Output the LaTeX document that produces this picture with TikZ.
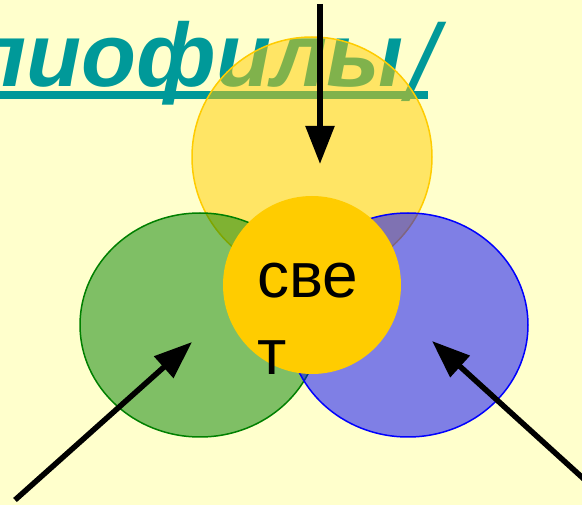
\documentclass[tikz,border=0pt]{standalone}
\usepackage{fontspec}
\setmainfont{Liberation Sans}
\usetikzlibrary{arrows.meta}
\definecolor{bgc}{HTML}{FFFFCC}
\definecolor{teal1}{HTML}{009999}
\definecolor{sunc}{HTML}{FFCC00}
\definecolor{greenc}{HTML}{008000}
\definecolor{bluec}{HTML}{0000FF}
\tikzset{
  petal/.style={line width=1.5pt, fill opacity=0.5, draw opacity=1},
  ray/.style={line width=5.5pt, -{Triangle[length=38pt,width=28pt]}},
  label/.style={inner sep=0pt, font=\fontsize{64}{64}\selectfont},
}
\begin{document}
\begin{tikzpicture}[x=1pt,y=-1pt]
\fill[bgc] (0,0) rectangle (582,505);
\useasboundingbox (0,0) rectangle (582,505);
% title
\node[inner sep=0pt, anchor=base east, text=teal1, font=\fontsize{90}{90}\selectfont\bfseries\itshape] (title) at (404,87) {лиофилы};
\node[inner sep=0pt, anchor=base west, text=teal1, font=\fontsize{108}{108}\selectfont\itshape] (slash) at (407,101) {/};
\fill[teal1] (0,91) rectangle (428,99);
% petals
\draw[petal, draw=sunc, fill=sunc] (312,157) ellipse [x radius=120, y radius=120];
\draw[petal, draw=greenc, fill=greenc] (200,325) ellipse [x radius=120, y radius=112];
\draw[petal, draw=bluec, fill=bluec] (408,325) ellipse [x radius=120, y radius=112];
% centre
\node[circle, fill=sunc, minimum size=178pt, inner sep=0pt] (sun) at (312,285) {};
\node[label, anchor=base west] (sve) at (257,298) {све};
\node[label, anchor=base west] (t) at (257,375) {т};
% arrows
\coordinate (topS) at (320,4);
\coordinate (topE) at (320,164);
\coordinate (leftS) at (15,500);
\coordinate (leftE) at (192,342);
\coordinate (rightS) at (585,480);
\coordinate (rightE) at (432,341);
\draw[ray] (topS) -- (topE);
\draw[ray] (leftS) -- (leftE);
\draw[ray] (rightS) -- (rightE);
\end{tikzpicture}
\end{document}
